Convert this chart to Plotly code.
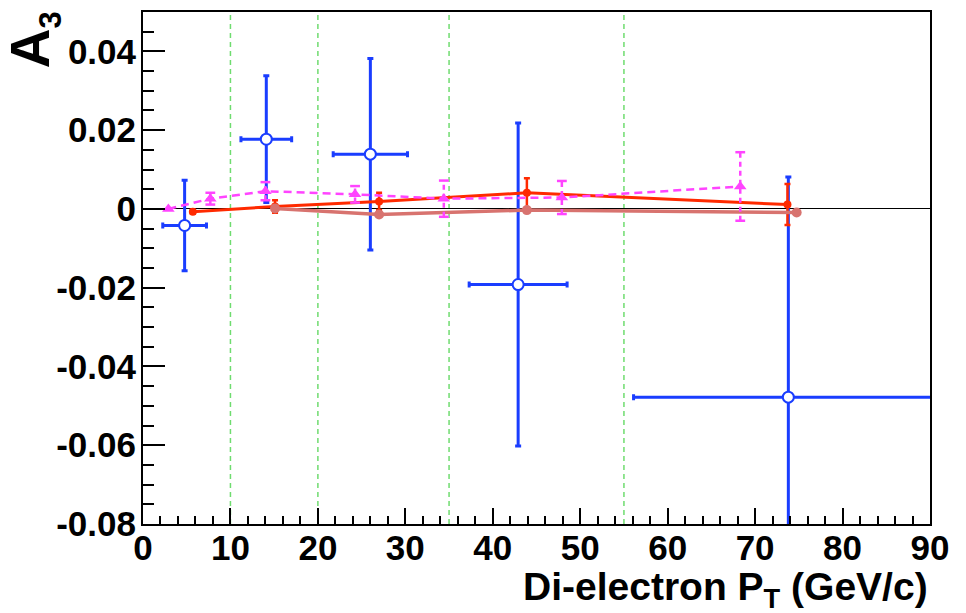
import plotly.graph_objects as go

# ---- data ----
blue_x = [4.76, 14.1, 26.0, 42.9, 73.8]
blue_y = [-0.0042, 0.0177, 0.0139, -0.0192, -0.0478]
blue_xerr = [2.5, 2.9, 4.25, 5.6, 17.7]
blue_yerr = [0.0115, 0.0161, 0.0243, 0.041, 0.0559]

red_x = [5.7, 15.1, 27.0, 43.9, 73.7]
red_y = [-0.0007, 0.0006, 0.0019, 0.0041, 0.0011]
red_err = [0.0005, 0.0016, 0.0022, 0.0037, 0.0052]

salmon_x = [15.1, 27.0, 43.9, 74.75]
salmon_y = [0.0001, -0.0014, -0.0003, -0.0009]

mag_x = [2.9, 7.7, 14.0, 24.25, 34.4, 47.9, 68.3]
mag_y = [0.0, 0.0026, 0.0045, 0.0037, 0.0026, 0.0029, 0.0057]
mag_err = [0.0, 0.0015, 0.0023, 0.0021, 0.0046, 0.0042, 0.0087]

bin_edges = [10, 20, 35, 55]

x_ticks = [0, 10, 20, 30, 40, 50, 60, 70, 80, 90]
y_ticks = [-0.08, -0.06, -0.04, -0.02, 0, 0.02, 0.04]
y_ticklabels = ["-0.08", "-0.06", "-0.04", "-0.02", "0", "0.02", "0.04"]

x_title = "Di-electron P<sub>T</sub> (GeV/c)"
y_title = "A<sub><span style='font-size:31px'>3</span></sub>"

BLUE = "#1a3dff"
RED = "#ff2a00"
SALMON = "#d8736f"
MAG = "#ff44ff"
GREEN = "#6fdc6f"
FONT = "Liberation Sans"

fig = go.Figure()

# blue open circles with x/y errors
fig.add_trace(go.Scatter(
    x=blue_x, y=blue_y, mode="markers",
    marker=dict(symbol="circle", size=11, color="white", line=dict(color=BLUE, width=2)),
    error_x=dict(type="data", array=blue_xerr, color=BLUE, thickness=3, width=3),
    error_y=dict(type="data", array=blue_yerr, color=BLUE, thickness=3, width=3),
    showlegend=False))

# red solid
fig.add_trace(go.Scatter(
    x=red_x, y=red_y, mode="lines+markers",
    line=dict(color=RED, width=3),
    marker=dict(symbol="circle", size=8, color=RED),
    error_y=dict(type="data", array=red_err, color=RED, thickness=2.5, width=3),
    showlegend=False))

# salmon
fig.add_trace(go.Scatter(
    x=salmon_x, y=salmon_y, mode="lines+markers",
    line=dict(color=SALMON, width=3.5),
    marker=dict(symbol="circle", size=10, color=SALMON),
    showlegend=False))

# magenta dashed error bars
ex, ey, cx, cy = [], [], [], []
for xv, yv, ev in zip(mag_x, mag_y, mag_err):
    if ev > 0:
        ex += [xv, xv, None]
        ey += [yv - ev, yv + ev, None]
        cx += [xv, xv]
        cy += [yv - ev, yv + ev]
fig.add_trace(go.Scatter(x=ex, y=ey, mode="lines",
                         line=dict(color=MAG, width=2.5, dash="5px,4px"),
                         showlegend=False, hoverinfo="skip"))
fig.add_trace(go.Scatter(x=cx, y=cy, mode="markers",
                         marker=dict(symbol="line-ew-open", size=7, color=MAG,
                                     line=dict(color=MAG, width=2.5)),
                         showlegend=False, hoverinfo="skip"))
fig.add_trace(go.Scatter(
    x=mag_x, y=mag_y, mode="lines+markers",
    line=dict(color=MAG, width=2.5, dash="8px,5px"),
    marker=dict(symbol="triangle-up", size=11, color=MAG),
    showlegend=False))

for xe in bin_edges:
    fig.add_shape(type="line", xref="x", yref="paper", x0=xe, x1=xe, y0=0, y1=1,
                  line=dict(color=GREEN, width=1.5, dash="5px,4px"), layer="below")

axis_font = dict(family=FONT, size=35, color="black", weight="bold")

fig.update_xaxes(range=[0, 90], tickvals=x_ticks, ticks="inside", ticklen=16, tickwidth=1.5,
                 tickcolor="black", showline=True, linecolor="black", linewidth=2, mirror=True,
                 showgrid=False, zeroline=False, tickfont=axis_font, ticklabelstandoff=-8,
                 minor=dict(dtick=2, tick0=0, ticks="inside", ticklen=8, tickwidth=1.5, tickcolor="black"))
fig.update_yaxes(range=[-0.08, 0.05], tickvals=y_ticks, ticktext=y_ticklabels, ticks="inside",
                 ticklen=22, tickwidth=1.5, tickcolor="black", showline=True, linecolor="black",
                 linewidth=2, mirror=True, showgrid=False, zeroline=True, zerolinecolor="black",
                 zerolinewidth=1, tickfont=axis_font, ticklabelstandoff=-2,
                 minor=dict(dtick=0.005, tick0=0, ticks="inside", ticklen=11, tickwidth=1.5, tickcolor="black"))

fig.add_annotation(text=x_title, xref="paper", yref="paper", x=1, y=-0.127, xanchor="right",
                   yanchor="middle", showarrow=False,
                   font=dict(family=FONT, size=39, color="black", weight="bold"))
fig.add_annotation(text=y_title, xref="paper", yref="paper", x=-0.138, y=0.9455, xanchor="center",
                   yanchor="middle", textangle=-90, showarrow=False,
                   font=dict(family=FONT, size=55, color="black", weight="bold"))

fig.update_layout(width=966, height=613, margin=dict(l=143, r=36, t=10, b=89),
                  plot_bgcolor="white", paper_bgcolor="white", showlegend=False)

fig.write_html("out.html", config={"displayModeBar": False},
               post_script="document.body.style.margin='0';document.body.style.overflow='hidden';")
